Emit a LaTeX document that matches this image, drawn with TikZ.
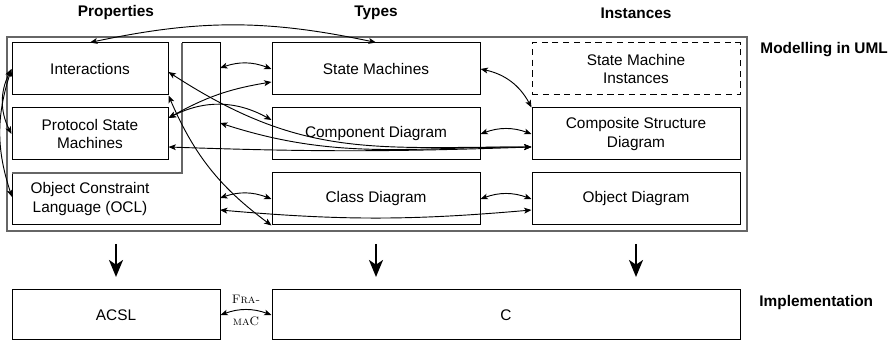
\documentclass[tikz,border=0pt]{standalone}
\usepackage{fontspec}
\setsansfont{Liberation Sans}
\usetikzlibrary{arrows.meta,calc}
\newcommand{\pxu}{0.65pt}
\begin{document}
\begin{tikzpicture}[x=0.65pt,y=0.65pt,
  every node/.style={font=\sffamily},
  box/.style={draw,line width=0.65pt,inner sep=0pt,align=center,minimum height=52*\pxu},
  narrow/.style={box,minimum width=156*\pxu},
  wide/.style={box,minimum width=208*\pxu},
  head/.style={font=\sffamily\bfseries},
  tip/.tip={Stealth[length=4.8pt,width=3.8pt,inset=1.2pt]},
  link/.style={line width=0.6pt,tip-tip},
  refine/.style={line width=1.8pt,-{Stealth[length=11pt,width=9pt,inset=3pt]}},
  fra/.style={font=\rmfamily\footnotesize\scshape,inner sep=1pt}
]
\useasboundingbox (0,0) rectangle (888,-343);

% column headings
\node[head] at (116,-13) {Properties};
\node[head] at (376,-13) {Types};
\node[head] at (636,-13) {Instances};
\node[head,anchor=west] at (755,-50) {Modelling in UML};
\node[head,anchor=west] at (754,-303) {Implementation};

% UML frame
\node[draw=black!60,line width=1.2pt,inner sep=0pt,
      minimum width=740*\pxu,minimum height=194*\pxu] (uml) at (377,-134) {};

% properties
\node[narrow] (inter) at (90,-69) {Interactions};
\node[narrow] (psm) at (90,-134) {Protocol State\\Machines};

% OCL: L-shaped outline
\coordinate (l1) at (12,-173);
\coordinate (l2) at (182,-173);
\coordinate (l3) at (182,-43);
\coordinate (l4) at (220,-43);
\coordinate (l5) at (220,-225);
\coordinate (l6) at (12,-225);
\draw[line width=0.65pt] (l2) -- (l3) -- (l4) -- (l5) -- (l6) -- (l1);
\draw[line width=0.9pt,black!60] (l1) -- (l2) -- (l3);
\node[align=center] (ocl) at (90,-199) {Object Constraint\\Language (OCL)};
\coordinate (oclW) at (12,-197);
\coordinate (oe1) at (220,-68);
\coordinate (oe2) at (220,-123);
\coordinate (oe3) at (220,-198);
\coordinate (oe4) at (220,-210);

% types
\node[wide] (sm) at (376,-69) {State Machines};
\node[wide] (comp) at (376,-134) {Component Diagram};
\node[wide] (cls) at (376,-199) {Class Diagram};

% instances
\node[wide,dashed,dash pattern=on 4pt off 3pt] (smi) at (636,-69) {State Machine\\Instances};
\node[wide] (csd) at (636,-134) {Composite Structure\\Diagram};
\node[wide] (obj) at (636,-199) {Object Diagram};

% attachment points
\coordinate (interA) at ([yshift=-3*\pxu]inter.east);
\coordinate (psmA) at ([yshift=16*\pxu]psm.east);
\coordinate (psmB) at ([yshift=-13*\pxu]psm.east);
\coordinate (smB) at ([yshift=-13*\pxu]sm.west);
\coordinate (compA) at ([yshift=14*\pxu]comp.west);
\coordinate (csdB) at ([yshift=-13*\pxu]csd.west);
\coordinate (objB) at ([yshift=-11*\pxu]obj.west);

% relations inside the properties column
\draw[link] (inter.west) to[bend right=27] (psm.west);
\draw[link] (inter.west) to[bend right=18] (oclW);

% relations across columns
\draw[link] (inter.north) to[bend left=12] (sm.north);
\draw[link] (oe1) to[bend left=20] (sm.west);
\draw[link] (psmA) to[bend left=10] (smB);
\draw[link] (psmA) to[bend left=28] (compA);
\draw[link] (interA) to[out=-33,in=180,looseness=1.1] (csdB);
\draw[link] (oe2) to[out=-18,in=180] (csdB);
\draw[link] (psmB) to[bend right=2] (csdB);
\draw[link] (inter.south east) to[bend right=15] (cls.south west);
\draw[link] (oe3) to[bend left=20] (cls.west);
\draw[link] (oe4) to[bend right=5] (objB);
\draw[link] (sm.east) to[bend left=25] (csd.north west);
\draw[link] (comp.east) to[bend left=20] (csd.west);
\draw[link] (cls.east) to[bend left=20] (obj.west);

% refinement into the implementation
\coordinate (r1s) at (116,-244);
\coordinate (r1e) at (116,-277);
\coordinate (r2s) at (376,-244);
\coordinate (r2e) at (376,-277);
\coordinate (r3s) at (636,-244);
\coordinate (r3e) at (636,-277);
\draw[refine] (r1s) -- (r1e);
\draw[refine] (r2s) -- (r2e);
\draw[refine] (r3s) -- (r3e);

% implementation
\node[box,minimum width=208*\pxu,minimum height=50*\pxu] (acsl) at (116,-315) {ACSL};
\node[box,minimum width=468*\pxu,minimum height=50*\pxu] (cimpl) at (506,-315) {C};
\draw[link] (acsl.east) to[bend left=20]
  node[fra,above=3pt] {Fra-}
  node[fra,below=3pt] {ma{\upshape C}} (cimpl.west);
\end{tikzpicture}
\end{document}
